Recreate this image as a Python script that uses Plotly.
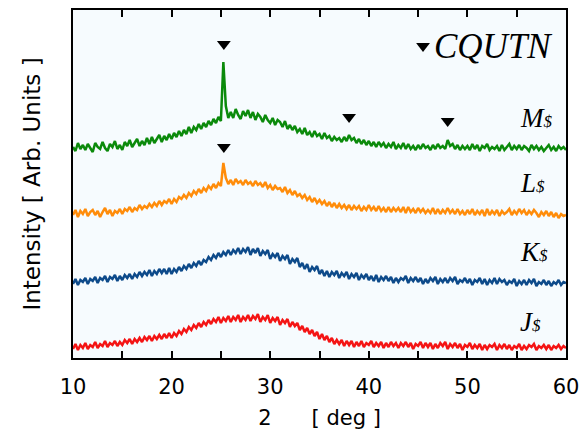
import numpy as np
import plotly.graph_objects as go

# 2theta grid (deg), 0.25 deg steps from 10 to 60
two_theta = np.round(np.arange(10, 60.001, 0.25), 2)

# Displayed intensities (arb. units, stacked with offsets)
green = [
211, 207, 215, 209, 213, 208, 214, 210, 206, 215, 211, 209, 216, 210, 207, 214, 211, 217, 209, 213,
208, 216, 212, 218, 211, 215, 219, 212, 217, 213, 220, 214, 221, 215, 219, 223, 216, 222, 218, 224,
219, 225, 221, 227, 222, 228, 224, 231, 225, 231, 228, 234, 229, 235, 231, 237, 233, 239, 235, 241,
237, 296, 252, 240, 246, 240, 249, 243, 239, 247, 242, 248, 240, 246, 238, 244, 241, 236, 243, 238,
235, 240, 233, 238, 236, 231, 237, 229, 233, 228, 232, 226, 229, 224, 230, 223, 226, 221, 227, 222,
224, 219, 225, 220, 222, 217, 221, 218, 220, 216, 221, 217, 223, 218, 220, 215, 219, 214, 218, 213,
217, 212, 216, 211, 216, 212, 215, 210, 214, 211, 216, 209, 213, 210, 215, 209, 214, 209, 212, 208,
213, 209, 214, 210, 212, 208, 213, 209, 214, 210, 212, 209, 218, 212, 214, 209, 213, 208, 212, 209,
212, 208, 214, 209, 213, 207, 212, 210, 214, 208, 211, 209, 212, 207, 213, 208, 211, 214, 208, 212,
209, 213, 208, 212, 210, 207, 213, 209, 212, 208, 211, 207, 210, 213, 208, 211, 207, 212, 209, 211,
208]

orange = [
143, 148, 141, 147, 144, 149, 142, 146, 148, 143, 147, 141, 146, 150, 144, 148, 142, 147, 145, 149,
144, 149, 147, 151, 146, 150, 148, 153, 149, 152, 150, 154, 151, 155, 152, 157, 153, 157, 155, 159,
154, 159, 156, 161, 159, 163, 160, 165, 162, 167, 164, 169, 165, 170, 167, 172, 169, 174, 170, 175,
172, 195, 180, 174, 178, 173, 179, 175, 177, 173, 178, 174, 176, 172, 177, 173, 175, 171, 176, 170,
173, 168, 172, 169, 170, 166, 171, 165, 168, 163, 167, 162, 164, 160, 163, 158, 161, 156, 160, 155,
158, 154, 157, 152, 156, 151, 155, 150, 154, 150, 153, 149, 153, 148, 152, 149, 152, 147, 151, 148,
153, 148, 151, 147, 152, 147, 150, 146, 151, 146, 150, 147, 150, 146, 151, 145, 151, 146, 149, 145,
150, 146, 149, 145, 148, 145, 150, 144, 149, 144, 148, 145, 150, 145, 148, 144, 149, 144, 147, 143,
148, 144, 149, 143, 147, 144, 148, 142, 149, 143, 147, 144, 148, 142, 147, 144, 146, 149, 143, 147,
144, 149, 145, 148, 143, 147, 144, 148, 145, 141, 146, 143, 147, 142, 146, 141, 145, 140, 144, 142,
143]

blue = [
74, 79, 73, 78, 76, 80, 74, 79, 77, 81, 75, 80, 78, 82, 76, 81, 79, 83, 77, 82,
78, 83, 80, 84, 79, 84, 81, 86, 82, 86, 83, 88, 82, 87, 84, 89, 85, 89, 84, 90,
84, 89, 86, 91, 87, 92, 89, 94, 90, 95, 92, 97, 93, 98, 96, 101, 98, 103, 100, 105,
101, 106, 103, 108, 103, 108, 105, 110, 104, 109, 106, 111, 103, 109, 105, 110, 102, 107, 104, 108,
99, 104, 101, 105, 97, 102, 99, 103, 94, 99, 96, 100, 91, 95, 89, 94, 86, 91, 88, 92,
84, 88, 82, 87, 81, 86, 83, 87, 80, 85, 82, 86, 79, 84, 81, 85, 78, 83, 80, 84,
78, 82, 77, 83, 76, 81, 78, 82, 77, 81, 75, 80, 76, 80, 78, 82, 75, 80, 77, 81,
76, 80, 74, 79, 75, 80, 77, 81, 74, 79, 76, 80, 75, 80, 77, 81, 74, 78, 76, 80,
75, 79, 73, 78, 76, 80, 74, 79, 73, 78, 75, 80, 74, 79, 76, 78, 73, 77, 75, 79,
72, 77, 74, 78, 73, 78, 75, 79, 72, 76, 74, 78, 73, 77, 72, 76, 74, 78, 73, 76,
75]

red = [
9, 14, 8, 13, 10, 15, 9, 13, 11, 16, 10, 14, 12, 17, 11, 15, 13, 17, 12, 16,
13, 18, 15, 19, 14, 19, 16, 20, 16, 21, 18, 22, 17, 22, 19, 23, 19, 24, 20, 25,
20, 25, 22, 27, 24, 29, 26, 31, 28, 33, 30, 35, 31, 36, 33, 38, 34, 39, 36, 41,
35, 40, 37, 42, 36, 41, 38, 43, 36, 41, 38, 43, 37, 42, 39, 44, 36, 41, 38, 43,
35, 40, 37, 41, 33, 38, 35, 39, 31, 36, 32, 35, 28, 32, 26, 30, 24, 28, 22, 26,
19, 24, 18, 22, 16, 20, 14, 18, 14, 18, 12, 17, 13, 17, 11, 16, 12, 17, 11, 15,
13, 17, 11, 15, 12, 16, 10, 15, 11, 16, 12, 15, 10, 15, 12, 16, 11, 15, 9, 14,
12, 16, 10, 15, 11, 15, 9, 14, 10, 15, 12, 16, 9, 14, 11, 15, 10, 14, 8, 13,
11, 15, 9, 13, 10, 14, 8, 13, 9, 13, 11, 14, 8, 13, 10, 14, 9, 13, 8, 12,
10, 14, 8, 12, 9, 13, 11, 14, 8, 12, 10, 13, 9, 13, 8, 12, 10, 13, 9, 12,
10]

series_colors = ["#0b8a0b", "#ff8c0a", "#0d4a8a", "#f41414"]
series_data = [green, orange, blue, red]
series_letters = ["M", "L", "K", "J"]
series_suffix = "$"
label_y = [240, 175, 106, 36]

# reflection markers (2theta, y)
marker_x = [25.3, 38.0, 48.0, 25.3]
marker_y = [314, 241, 237, 211]
legend_marker = (45.5, 312)
legend_text = "CQUTN"

x_tickvals = [10, 15, 20, 25, 30, 35, 40, 45, 50, 55, 60]
x_ticktext = ["10", "", "20", "", "30", "", "40", "", "50", "", "60"]

fig = go.Figure()
for d, c in zip(series_data, series_colors):
    fig.add_trace(go.Scatter(x=two_theta, y=d, mode="lines",
                             line=dict(color=c, width=2.5), showlegend=False))

fig.add_trace(go.Scatter(x=marker_x + [legend_marker[0]], y=marker_y + [legend_marker[1]],
                         mode="markers", showlegend=False,
                         marker=dict(symbol="triangle-down", size=12, color="black")))

serif = "Liberation Serif, DejaVu Serif, serif"
fig.add_annotation(x=46.4, y=312, xref="x", yref="y", text=legend_text, showarrow=False,
                   xanchor="left", yanchor="middle",
                   font=dict(family=serif, size=35, color="black", style="italic"))
for lab, ly in zip(series_letters, label_y):
    fig.add_annotation(x=55.1, y=ly, xref="x", yref="y",
                       text=lab + "<span style='font-size:17px'>" + series_suffix + "</span>",
                       showarrow=False, xanchor="left", yanchor="middle",
                       font=dict(family=serif, size=27, color="black", style="italic"))

sans = "DejaVu Sans, Verdana, sans-serif"
fig.update_layout(
    width=584, height=432,
    margin=dict(l=73, r=18, t=10, b=74, autoexpand=False),
    paper_bgcolor="white", plot_bgcolor="#f6fbfe",
    font=dict(family=sans, color="black"),
    xaxis=dict(range=[10, 60], tickvals=x_tickvals, ticktext=x_ticktext,
               ticks="inside", ticklen=7, tickwidth=1.5, tickcolor="black",
               showline=True, linecolor="black", linewidth=1.5, mirror="ticks",
               showgrid=False, zeroline=False, tickfont=dict(size=21),
               ticklabelstandoff=9, automargin=False,
               title=dict(text="2\u00a0\u00a0\u00a0\u00a0\u00a0\u00a0[ deg ]", font=dict(size=21), standoff=12)),
    yaxis=dict(range=[0, 348], showticklabels=False, ticks="",
               showline=True, linecolor="black", linewidth=1.5, mirror=True,
               showgrid=False, zeroline=False, automargin=False,
               title=dict(text="Intensity [ Arb. Units ]", font=dict(size=23), standoff=24)),
)

fig.write_html("out.html")
